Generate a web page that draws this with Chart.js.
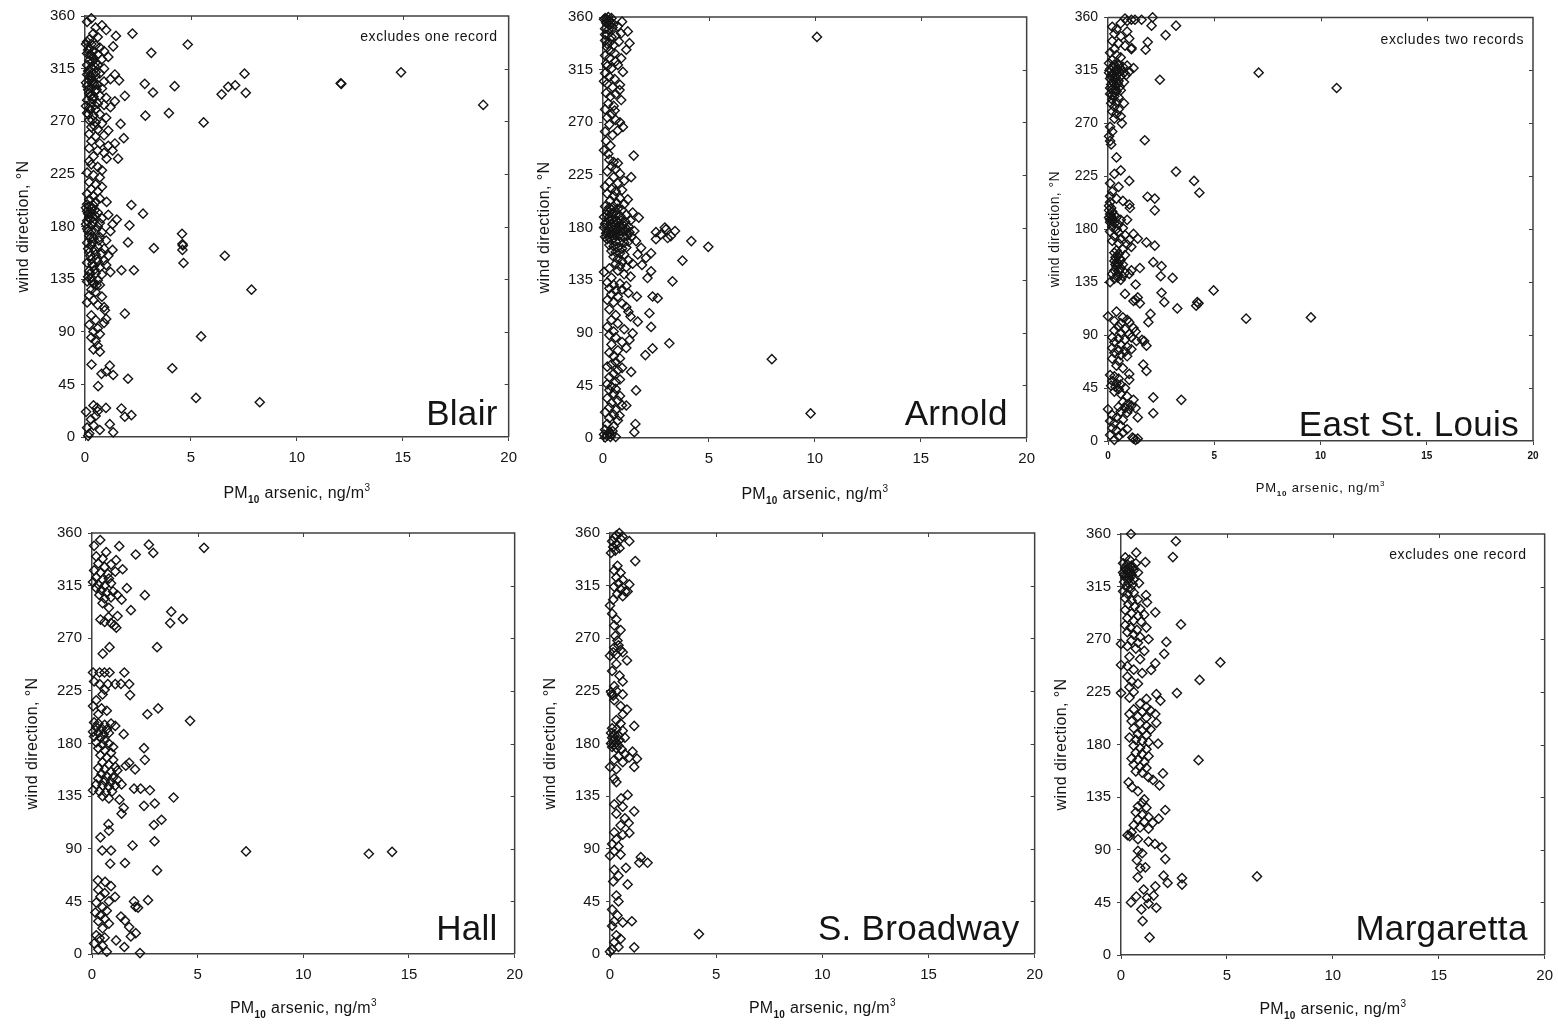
<!DOCTYPE html>
<html><head><meta charset="utf-8">
<script src="https://cdn.jsdelivr.net/npm/chart.js@4.4.1/dist/chart.umd.min.js"></script>
<style>
html,body{margin:0;padding:0;background:#fff;}
body{width:1558px;height:1027px;position:relative;overflow:hidden;}
.panel{position:absolute;}
</style></head><body>
<script>
// ---------- data ----------
const xTickValues = [0, 5, 10, 15, 20];
const yTickValues = [0, 45, 90, 135, 180, 225, 270, 315, 360];
const xAxisTitle = ['PM', '10', ' arsenic, ng/m', '3'];
const yAxisTitle = 'wind direction, °N';
const siteNames = ['Blair', 'Arnold', 'East St. Louis', 'Hall', 'S. Broadway', 'Margaretta'];
const siteNotes = ['excludes one record', '', 'excludes two records', '', '', 'excludes one record'];

// [PM10 arsenic ng/m3, wind direction °N]
const blairData = [
[0.3,358],[0.1,355],[0.5,350],[0.8,352],[0.4,345],[1.0,348],[1.46,343],[2.24,345],[0.2,340],[0.6,342],
[0.1,338],[0.3,336],[0.5,335],[0.2,332],[0.4,330],[0.7,333],[1.33,334],[0.1,328],[0.3,326],[0.6,327],[0.9,330],[0.2,322],[0.5,320],[0.4,324],[0.8,323],[1.1,325],[3.13,328.5],[4.85,335.6],[0.1,318],[0.3,316],[0.6,318],[0.2,314],[0.5,312],[0.9,315],
[0.05,336],[0.15,331],[0.25,327],[0.35,321],[0.45,317],[0.15,313],[0.25,309],[0.35,305],[0.45,301],[0.55,297],[0.05,303],[0.15,297],[0.25,292],[0.35,289],[0.45,284],[0.05,283],[0.15,276],[0.25,280],[0.35,271],[0.45,266],
[0.1,310],[0.3,308],[0.5,309],[0.7,311],[1.41,310],[1.61,305],[0.2,305],[0.4,303],[0.6,301],[0.9,304],[1.2,306],[0.1,300],[0.3,298],[0.5,296],[0.8,298],[2.82,302],[3.21,294.6],[4.23,300],[6.45,293],[6.76,299.4],[7.09,300.8],[7.53,310.7],[7.59,294.3],[12.07,302.5],[12.1,302.0],[14.92,311.8],[18.8,284],[0.2,294],[0.4,291],[0.7,292],[1.0,290],[1.88,291.7],[1.41,287],[0.1,288],[0.3,286],[0.6,285],[0.9,284],[1.2,282],[0.2,281],[0.5,280],
[2.85,274.8],[3.96,277],[5.6,269],[0.1,277],[0.4,275],[0.7,276],[1.0,273],[0.2,271],[0.5,269],[0.8,268],[1.68,267.7],[0.3,265],[0.6,263],[1.1,262],[0.2,259],[0.5,257],[0.9,258],[1.83,255.5],[0.3,253],[0.7,251],[1.41,251],[1.1,249],[0.2,247],[0.6,245],[0.9,243],[1.3,245],[1.56,238],[1.02,238],[0.4,240],[0.2,236],
[0.3,233],[0.6,231],[0.8,228],[0.1,226],[0.4,224],[0.7,222],[0.2,218],[0.5,216],[0.3,212],[0.6,210],[0.8,214],[0.1,208],[0.4,206],[0.2,203],[0.5,201],[1.02,201],[0.7,204],
[0.1,199],[0.2,197],[0.3,195],[0.4,198],[0.1,193],[0.3,191],[0.6,192],[0.2,188],[0.5,189],[0.8,187],[1.1,190],[0.1,185],[0.4,184],[0.7,183],[2.19,198.4],[2.74,191],[2.1,181],[1.5,186],[1.3,182],[0.3,181],[0.6,180],
[0.05,196],[0.15,191],[0.25,186],[0.35,188],[0.45,194],[0.05,182],[0.15,176],[0.25,170],[0.35,167],[0.45,160],[0.15,161],[0.25,155],[0.35,148],[0.45,143],[0.55,152],[0.65,168],[0.25,140],[0.15,137],[0.35,133],[0.55,130],
[0.1,178],[0.3,176],[0.5,177],[0.8,175],[1.2,176],[0.2,172],[0.4,170],[0.7,171],[1.0,168],[2.03,166.4],[4.58,173.8],[4.6,165],[4.62,163.8],[3.25,161.5],[0.1,166],[0.3,164],[0.6,163],[0.9,161],[1.3,160],[0.2,158],[0.5,156],[0.8,157],[1.1,155],[0.3,152],[0.6,150],[0.9,151],[0.1,149],[4.6,160],[4.65,148.8],[6.6,155],[0.4,146],[0.7,145],[1.0,147],[1.72,142.6],[2.31,142.6],[0.2,142],[0.5,140],[0.8,139],[1.2,141],[0.3,136],[0.6,134],[0.1,133],[0.4,131],[0.7,130],[7.86,126],
[0.3,126],[0.5,124],[0.2,121],[0.8,120],[0.4,117],[0.1,115],[0.6,113],[0.9,111],[1.88,105.5],[0.94,108.4],[1.0,101],[0.9,97.6],[0.3,104],[0.5,100],[0.2,96],[0.6,93],[0.4,90],[0.7,88],
[5.48,86],[0.3,85],[0.5,82],[0.6,78],[0.4,75],[0.7,73],[4.12,58.8],[1.17,61],[1.33,53],[0.78,54],[0.62,43.5],[0.31,62],[2.03,49.8],[1.0,56],
[5.24,33.4],[8.25,29.7],[1.72,24.4],[2.19,18.7],[1.88,17.3],[0.99,24.9],[0.57,25],[0.4,27],[0.6,22],[1.17,11],[1.33,4],[0.7,6],[0.05,21.5],[0.1,8],[0.28,15],[0.2,3],[0.4,10],[0.15,1],[0.5,18]
];

const arnoldData = [
[0.1,359],[0.2,358],[0.3,357],[0.4,359],[0.15,355],[0.3,353],[0.5,354],[0.1,350],[0.25,349],[0.45,351],[0.7,352],[0.9,356],[1.17,347.7],[0.2,345],[0.4,343],[0.6,344],[0.85,346],[1.25,337.6],[1.1,332],[0.1,340],[0.3,338],[0.5,336],[0.75,339],[0.2,334],[0.35,331],[0.55,329],[0.1,327],[0.3,325],[0.86,324.7],[0.6,322],[10.1,343],
[0.05,358],[0.25,360],[0.35,355],[0.1,345],[0.2,337],[0.15,320],[0.05,305],
[0.2,318],[0.4,316],[0.7,319],[0.94,313],[0.1,312],[0.3,309],[0.55,307],[0.2,303],[0.45,300],[0.8,302],[0.78,297.5],[0.15,295],[0.35,292],[0.6,294],[0.86,289],[0.25,286],[0.5,284],[0.1,281],[0.55,280],[0.4,277],
[0.2,274],[0.6,272],[0.94,266],[0.7,263],[0.3,268],[0.1,262],[0.45,259],[0.8,270],[0.15,254],[0.35,250],[0.05,246],[1.45,241.5],[0.25,243],
[0.3,238],[0.5,236],[0.7,235],[0.4,232],[0.6,230],[0.2,228],[0.8,226],[1.33,223],[0.5,223],[0.3,219],[0.7,218],[1.0,220],[0.1,215],[0.4,213],[0.6,211],[0.9,212],[1.17,204],[0.2,209],[0.5,207],[0.8,205],[0.35,203],[0.65,201],[1.0,200],
[0.1,198],[0.3,197],[0.5,198],[0.7,196],[0.9,195],[1.4,192.8],[1.69,188.5],[0.2,194],[0.4,192],[0.6,191],[0.8,190],[1.1,191],[0.05,189],[0.25,188],[0.45,187],[0.65,186],[0.85,186],[1.05,185],[1.3,186],[0.15,184],[0.35,183],[0.55,182],[0.75,181],[0.95,182],[1.2,181],[0.05,180],[0.25,179],[0.45,178],[0.65,178],[0.85,177],[1.05,177],[1.25,176],[1.48,177],[0.15,175],[0.35,174],[0.55,174],[0.75,173],[0.95,172],[1.15,173],[1.35,172],[0.2,170],[0.4,169],[0.6,168],[0.8,168],[1.0,167],[1.2,168],[1.56,168.4],[0.3,165],[0.5,164],[0.7,163],[0.9,162],[1.1,163],[1.8,162.6],[0.4,160],[0.6,159],[0.8,158],[1.0,157],[1.64,157],
[0.1,172],[0.3,171],[0.5,171],[0.2,176],[0.4,176],[0.6,176],[0.1,183],[0.3,186],[0.5,185],[0.7,184],[0.9,180],[1.1,179],[0.2,191],[0.4,195],[0.6,194],
[3.4,177],[2.97,178.4],[2.73,174],[2.5,176],[3.2,172.7],[2.92,180],[3.05,171],[2.5,170],[4.17,168.4],[4.97,163.5],[3.75,151.7],[2.27,158],[2.03,154],
[0.5,155],[0.7,153],[0.9,151],[1.2,152],[1.84,148],[0.6,149],[0.8,147],[1.1,146],[1.4,149],[0.3,145],[0.7,143],[2.27,142.6],[0.05,142],[1.0,140],[1.3,138],[2.1,136.8],[3.28,134],[0.4,137],
[0.2,133],[0.5,131],[0.8,132],[1.1,130],[0.3,128],[0.6,126],[0.9,127],[1.2,124],[0.4,123],[0.7,121],[1.6,121],[2.34,121],[2.58,119.6],[0.2,118],[0.5,116],[0.9,115],[1.1,112],[0.3,110],[1.2,108],[2.19,106.7],[0.6,105],[1.3,104],[0.4,101],[1.64,99.5],[0.7,98],[2.27,95],[0.2,95],[1.0,93],[0.5,91],
[1.4,89.5],[0.3,88],[0.6,86],[1.25,83.8],[3.13,81],[0.9,82],[0.4,80],[2.34,76.6],[1.1,77],[0.7,75],[2.0,70.9],[0.3,73],[0.5,70],[7.97,67.4],[0.8,68],[0.6,65],[0.4,63],[0.2,61],[0.9,60],[0.7,58],[1.33,56.5],[0.5,55],[0.3,52],[0.8,50],[0.6,48],[0.2,46],
[0.4,44],[0.6,42],[0.3,41],[1.56,40.7],[0.5,38],[0.8,36],[0.2,34],[0.7,32],[0.4,30],[1.1,27.8],[0.9,28],[0.3,26],[0.6,24],[0.1,22],[0.5,20],[0.78,19.2],[9.8,21],[0.3,17],[0.7,15],[1.53,12],[0.2,12],[0.5,10],[0.1,7],[0.3,5],[1.48,5],[0.4,3],[0.2,2],[0.6,1],[0.1,0.5],
[0.05,3],[0.25,4],[0.35,1],[0.45,6]
];

const eastStLouisData = [
[0.8,359],[0.9,357],[1.1,358],[0.6,355],[0.2,352],[0.4,350],[0.9,348],[0.3,346],[0.6,344],[1.0,342],[0.2,340],[0.5,338],[0.8,336],[1.1,333],[0.3,333],[0.1,330],[0.4,328],[0.6,326],[0.2,324],[0.05,321],[0.3,320],[0.5,319],[0.7,318],[0.9,319],[1.2,317],[0.1,316],[0.35,315],[0.55,314],[0.75,313],[1.0,314],[0.2,312],[0.4,311],[0.6,310],[0.85,311],[0.1,308],[0.3,307],[0.5,306],[0.75,305],[0.15,303],[0.35,302],[0.55,301],[0.2,299],[0.4,297],[0.6,298],[0.1,295],[0.3,293],[0.5,292],[0.2,290],[0.4,288],[0.75,287],[0.3,284],[0.5,282],[0.2,280],[0.4,278],[0.6,276],[0.3,274],[0.65,270],[0.1,267],[0.2,263],[0.05,259],[0.1,255],[0.15,252],
[0.05,313],[0.15,310],[0.25,305],[0.35,309],[0.45,316],[0.65,315],[0.1,300],[0.2,294],[0.3,296],[0.45,304],[0.25,318],[0.5,320],[0.15,287],[0.35,299],
[7.09,313],[10.76,300],[2.44,307],[3.2,353],[2.71,345],[1.87,339],[1.77,332.5],[1.27,358],[1.58,358],[2.1,360],[2.05,353],[1.11,334],
[0.4,241],[0.6,230],[0.3,227],[1.0,221],[0.1,219],[0.5,216],[0.2,212],[0.1,208],[0.4,206],[0.7,204],[1.0,201],[0.1,203],[0.05,200],[0.15,198],[0.05,196],[0.2,195],[0.1,193],[0.3,192],[0.05,190],[0.2,189],[0.4,190],[0.6,188],[0.9,188],[0.1,186],[0.3,185],[0.5,184],[0.2,182],[0.4,180],[0.7,181],
[0.1,188],[0.15,191],[0.25,187],
[3.2,229],[4.05,221],[4.3,211],[1.86,207.6],[2.2,206],[2.2,196],[1.03,198],[1.73,255.6],
[0.1,178],[0.5,177],[0.8,175],[1.2,176],[0.3,174],[0.6,172],[1.0,171],[1.4,172],[0.2,170],[0.5,168],[0.9,167],[1.1,165],[0.7,163],[0.4,162],[0.3,160],[0.5,159],[0.8,158],[0.35,156],[0.55,155],[0.3,153],[0.5,151],[0.7,150],[0.4,148],[0.6,147],[0.3,145],[0.5,144],[0.8,143],[1.1,145],[0.2,142],[0.45,141],[0.7,140],[1.0,142],[0.3,138],[0.6,137],[0.1,135],
[0.4,152],[0.6,154],[0.45,157],[0.35,150],[0.55,146],[0.45,139],
[2.2,166],[1.81,168.8],[2.13,152],[2.52,148.6],[2.48,140],[3.04,138.6],[1.5,147],[1.3,133],
[0.8,125],[1.4,122],[1.2,119],[1.5,117],[1.3,120],[0.4,110],[0.0,106],[0.7,105],[0.9,103],[0.3,102],[0.6,100],[1.0,101],[0.5,97],[0.8,95],[1.2,96],[0.3,94],[0.6,92],[1.0,91],[1.3,93],
[2.52,126],[2.65,118],[3.26,112.7],[4.97,128],[4.26,117],[4.15,115],[4.2,118],[6.5,104],[9.55,105],[1.9,101],[2.0,108],
[0.2,88],[0.5,87],[0.8,86],[1.1,88],[1.6,86],[1.7,85],[0.3,84],[0.6,82],[0.9,80],[0.2,79],[0.5,77],[0.8,76],[1.1,78],[0.3,75],[0.6,73],[0.9,72],[0.2,70],[0.5,68],[1.81,81],[1.34,85],[1.66,65],[1.81,59.5],[0.4,64],[0.7,62],[1.0,57],
[0.1,56],[0.3,55],[0.5,53],[0.2,51],[0.4,49],[0.6,48],[0.15,47],[0.35,46],[0.5,44],[0.8,45],[1.0,52],
[2.13,37],[2.13,23.6],[3.45,35],[0.3,42],[0.6,40],[0.9,38],[1.2,35],[0.7,33],[0.9,31],[1.1,30],[0.8,28],[1.0,27],[1.3,28],[0.5,29],[0.0,27],[0.6,25],[0.9,24],[1.4,20],[0.2,22],[0.4,20],[0.7,18],[0.1,17],[0.3,15],[0.6,13],[0.2,11],[0.4,9],[0.7,7],[0.9,10],[0.1,5],[0.5,4],[1.2,2],[1.3,1],[1.4,2],[1.15,3],[0.3,1]
];

const hallData = [
[0.39,354],[0.1,349],[0.67,343.6],[1.29,348.7],[2.07,341.6],[2.69,350],[2.9,343],[5.3,347.3],[1.14,336.8],[0.9,333],[1.45,329],[0.2,340],[0.5,338],[0.3,334],[0.6,331],[0.1,328],[0.4,326],[0.75,325],[1.1,327],[0.2,322],[0.5,320],[0.8,321],[0.05,318],[0.3,316],[0.6,315],[0.9,317],[0.2,313],[0.45,311],[0.7,309],[1.0,310],[1.2,307],[0.35,307],[0.6,304],[0.9,305],[1.65,312.8],[2.5,306.8],[1.4,303],[1.84,294],[0.5,300],[0.8,296],[3.75,292.7],[3.7,283],[4.3,286.5],[1.21,289],[1.06,281],[0.78,288],[0.4,286],[0.6,284],[0.9,283],[1.15,279],[3.08,262.4],[0.83,262.4],[0.51,256.8],
[0.05,240.7],[0.36,240.7],[0.59,240.7],[0.83,240.7],[1.53,240.7],[0.36,230.8],[0.75,230.8],[1.1,230.8],[1.37,231],[1.76,230.8],[1.8,221.4],[0.1,233],[0.6,226],[0.5,222],[0.2,217],[0.05,212],[0.45,210],[0.7,208],[0.3,205],[2.62,205],[3.13,210],[4.64,199.4],
[0.1,198],[0.3,197],[0.6,196],[0.9,197],[0.2,194],[0.45,193],[0.7,192],[1.1,195],[0.05,190],[0.3,189],[0.55,188],[0.8,189],[1.5,188],[0.1,186],[0.4,185],[0.6,183],[0.2,181],[0.5,179],[0.8,180],[1.0,177],[0.3,176],[0.6,174],[0.9,172],[2.46,176],[2.5,166],[0.4,170],[0.7,168],[1.0,166],[0.5,164],[0.8,162],[1.1,160],[1.76,163.5],[1.6,161],[2.04,157.8],[0.3,159],[0.6,158],[0.9,156],[1.2,157],[0.45,154],[0.7,152],[1.0,151],[0.3,150],[0.6,148],[0.9,147],[1.2,149],[0.2,145],[0.5,144],[0.8,143],[1.1,144],[1.4,145],[1.99,141.4],[2.3,141.4],[2.74,140],[0.05,140],[0.35,139],[0.65,138],[0.95,139],[3.86,133.8],[0.5,135],[0.8,133],[1.3,132],[1.5,125],[1.4,120],[2.46,126.7],[2.97,128.7],[3.29,114.8],[2.93,110.3],
[0.78,111],[0.8,105.5],[0.4,99.8],[2.96,96.4],[1.92,92.8],[0.48,88.5],[0.9,88.5],[1.56,77.8],[0.86,77.2],[7.29,87.7],[13.1,85.7],[14.2,87.4],[3.08,71.5],[0.28,63],[0.62,61.7],[0.9,58],[0.3,55],[0.6,52],[1.09,48.9],[0.4,49],[0.8,45],[0.2,44],[1.99,45],[2.65,46],[2.06,40.4],[2.18,39.6],[0.5,40],[0.7,37],[0.16,35.4],[0.4,33],[1.37,32],[0.6,30],[1.56,28.6],[0.3,28],[0.8,26],[1.76,23],[0.5,22],[2.07,17.8],[1.84,15],[0.2,16],[0.6,14],[0.36,13.6],[1.14,11.6],[0.1,9],[0.5,7],[1.53,6],[0.3,4],[0.7,2],[2.27,0.8]
];

const southBroadwayData = [
[0.44,360],[0.3,358],[0.2,356],[0.5,355],[0.1,353],[0.91,353],[0.59,357],[0.3,350],[0.15,348],[0.45,347],[0.25,345],[0.05,343],[1.19,336],[0.35,332],[0.2,328],[0.5,326],[0.3,322],[0.6,320],[0.4,317],[0.91,316],[0.2,314],[0.5,312],[0.83,310],[0.72,310],[0.35,308],[0.6,306],[0.15,303],[0.0,298],[0.1,291],[0.3,286],[0.2,281],[0.5,277],[0.25,272],[0.35,268],[0.4,264],[0.2,262],[0.5,260],[0.15,258],[0.3,256],[0.6,258],[0.0,255],[0.8,251],[0.3,248],[0.1,242],[0.45,238],[0.6,233],[0.2,229],[0.05,224],[0.1,222],[0.15,221],[0.3,225],[0.6,222],[0.2,217],[0.5,212],[0.8,209],[0.6,205],[0.3,200],[0.5,197],[1.14,195],
[0.1,193],[0.3,192],[0.6,191],[0.05,189],[0.2,188],[0.4,187],[0.1,185],[0.25,184],[0.45,183],[0.7,185],[0.15,182],[0.3,181],[0.05,180],[0.2,179],[0.4,178],[0.1,177],[0.3,176],[0.55,175],[1.06,173],[0.7,171],[0.4,169],[1.27,167],[0.9,168],[0.2,166],[0.6,164],[1.14,160],[0.0,160],[0.3,158],[0.2,150],[0.3,147],[0.83,136],[0.52,133],[0.2,128],[0.6,126],[1.14,122],[0.3,120],[0.7,116],[0.88,112],[0.5,110],[0.91,103.5],[0.2,104],[0.6,102],[0.3,98],[0.1,94],[0.4,92],[0.2,88],[0.0,84],[0.5,85],[1.45,82.8],[1.38,78],[1.77,78],[0.75,73.7],[0.2,72],[0.4,67],[0.83,59.5],[0.15,62],[0.3,50],[0.4,45],[0.1,38],[0.35,33],[0.2,28],[0.6,27],[1.03,28],[0.1,24],[0.3,16],[0.5,13],[4.19,17],[0.2,10],[1.14,5.7],[0.1,4],[0.4,6],[0.0,2]
];

const margarettaData = [
[0.47,360],[2.59,353.8],[2.45,340.3],[0.72,344],[1.15,336],[0.2,340],[0.4,338],[0.1,335],[0.3,334],[0.5,333],[0.7,335],[0.2,331],[0.4,330],[0.6,329],[0.1,327],[0.3,326],[0.5,325],[0.8,327],[0.2,323],[0.4,322],[0.6,321],[0.15,319],[0.35,318],[0.55,317],[0.85,318],[0.25,315],[0.45,313],[0.1,311],[0.3,309],[0.6,310],
[0.25,329],[0.45,327],[0.35,323],[0.15,325],[0.55,331],
[1.18,307.8],[0.2,305],[0.5,303],[0.8,304],[1.23,301.6],[0.35,300],[0.65,298],[0.91,296],[1.62,293],[0.2,295],[0.5,292],[0.8,290],[1.1,291],[0.3,288],[0.6,286],[0.95,285],[2.83,282.7],[0.2,282],[0.45,280],[0.75,278],[1.2,280],[0.3,276],[0.6,274],[0.9,272],[1.3,270],[0.5,269],[0.8,267],[2.14,267.7],[0.0,266],[0.3,264],[0.7,262],[1.1,260],[2.04,257.5],[0.4,255],[0.9,253],[1.62,249.4],[4.69,250.2],[0.0,248],[0.3,247],[0.6,244],[1.42,243.7],[1.0,241],[0.3,238],[3.71,235.2],[0.5,234],[0.8,232],[0.4,229],[0.0,224],[0.6,225],[1.67,223],[2.64,224],[1.86,217.5],[1.2,219],[0.4,220],
[0.9,215],[1.2,212],[0.6,210],[1.0,208],[1.4,209],[1.62,206],[0.4,206],[0.8,204],[1.2,203],[0.5,200],[0.9,198],[1.67,198.5],[1.2,196],[0.6,194],[1.0,192],[1.4,193],[0.8,189],[1.2,188],[0.4,186],[0.7,184],[1.0,183],[1.3,182],[1.75,180.7],[0.6,179],[0.9,177],[1.2,176],[0.7,173],[1.0,172],[1.3,170],[0.5,168],[0.8,167],[1.1,165],[3.66,166.6],[0.6,163],[0.9,161],[1.2,160],[0.7,157],[1.0,156],[1.98,155.3],[1.3,152],[1.51,149.7],[1.82,145],[0.36,147.7],[0.52,143.5],[0.8,140],[1.1,133],[1.0,130],[0.8,127],[1.2,126],[2.09,124],[0.7,122],[1.0,120],[1.3,118],[1.78,116.6],[0.8,116],[1.1,114],[1.5,113],[0.6,111],[0.9,109],[1.3,108],[0.5,105],[0.31,102.5],[0.41,101.7],[0.8,99],[1.3,97],[1.6,95],[1.93,92],[0.8,89],[1.0,87],[2.09,82],[0.75,81],[0.91,74.3],[1.15,75],[0.79,66.4],[2.01,67.8],[2.2,61.6],[2.88,65.8],[2.88,60.2],[6.42,67.2],[1.62,58.7],[1.07,56],[1.54,50.8],[1.23,48.9],[0.72,50],[0.47,45],[1.3,44],[1.67,40.4],[0.96,39],[1.02,29],[1.35,15]
];

const siteData = [blairData, arnoldData, eastStLouisData, hallData, southBroadwayData, margarettaData];

// ---------- layout (pixel frames of each plot area) ----------
const frames = [
  {L:85,  R:511,  T:13,  B:437, yTitleDx:61, xTitleDy:61, nameDx:11, nameDy:12, noteDx:11, noteDy:21, small:false},
  {L:603, R:1029, T:14,  B:438, yTitleDx:58, xTitleDy:61, nameDx:19, nameDy:13, noteDx:11, noteDy:21, small:false},
  {L:1108,R:1533, T:15,  B:441, yTitleDx:53, xTitleDy:51, nameDx:14, nameDy:5,  noteDx:9,  noteDy:23, small:true},
  {L:92,  R:517,  T:530, B:954, yTitleDx:59, xTitleDy:59, nameDx:17, nameDy:14, noteDx:11, noteDy:21, small:false},
  {L:610, R:1037, T:530, B:954, yTitleDx:59, xTitleDy:59, nameDx:15, nameDy:14, noteDx:11, noteDy:21, small:false},
  {L:1121,R:1547, T:531, B:955, yTitleDx:59, xTitleDy:59, nameDx:17, nameDy:15, noteDx:18, noteDy:21, small:false}
];

const FONT = '"Liberation Sans", Arial, Helvetica, sans-serif';
const AXIS = '#404040';
const INK = '#141414';
Chart.defaults.font.family = FONT;
Chart.defaults.color = INK;

const framePlugin = {
  id: 'frameBox',
  beforeDatasetsDraw(chart) {
    const {ctx, chartArea: a, scales: {x, y}} = chart;
    ctx.save();
    ctx.strokeStyle = AXIS;
    ctx.lineWidth = 1.5;
    ctx.beginPath();
    ctx.moveTo(a.left, a.top); ctx.lineTo(a.right, a.top); ctx.lineTo(a.right, a.bottom);
    ctx.stroke();
    ctx.lineWidth = 1;
    ctx.beginPath();
    xTickValues.slice(1, -1).forEach(v => {
      const px = Math.round(x.getPixelForValue(v)) + 0.5;
      ctx.moveTo(px, a.top); ctx.lineTo(px, a.top + 4);
    });
    yTickValues.slice(1, -1).forEach(v => {
      const py = Math.round(y.getPixelForValue(v)) + 0.5;
      ctx.moveTo(a.right, py); ctx.lineTo(a.right - 4, py);
    });
    ctx.stroke();
    ctx.restore();
  }
};

function makeTextPlugin(i) {
  const f = frames[i];
  return {
    id: 'panelText' + i,
    afterDraw(chart) {
      const {ctx, chartArea: a} = chart;
      ctx.save();
      ctx.fillStyle = INK;
      // site name
      ctx.font = '35px ' + FONT;
      ctx.textAlign = 'right'; ctx.textBaseline = 'alphabetic';
      try { ctx.letterSpacing = '0.3px'; } catch (e) {}
      ctx.fillText(siteNames[i], a.right - f.nameDx, a.bottom - f.nameDy);
      // note
      if (siteNotes[i]) {
        ctx.font = '14px ' + FONT;
        ctx.textBaseline = 'middle';
        try { ctx.letterSpacing = '0.6px'; } catch (e) {}
        ctx.fillText(siteNotes[i], a.right - f.noteDx, a.top + f.noteDy);
      }
      try { ctx.letterSpacing = '0px'; } catch (e) {}
      // y title
      ctx.save();
      ctx.translate(a.left - f.yTitleDx, (a.top + a.bottom) / 2);
      ctx.rotate(-Math.PI / 2);
      ctx.textAlign = 'center'; ctx.textBaseline = 'middle';
      ctx.font = (f.small ? '14px ' : '16px ') + FONT;
      try { ctx.letterSpacing = '0.4px'; } catch (e) {}
      ctx.fillText(yAxisTitle, 0, 0);
      ctx.restore();
      // x title with subscript / superscript
      const big = f.small ? 13 : 16;
      const sm = f.small ? 8 : 10;
      try { ctx.letterSpacing = f.small ? '0.8px' : '0.3px'; } catch (e) {}
      const parts = [
        {t: xAxisTitle[0], font: big + 'px ' + FONT, dy: 0},
        {t: xAxisTitle[1], font: 'bold ' + sm + 'px ' + FONT, dy: Math.round(big * 0.3)},
        {t: xAxisTitle[2], font: big + 'px ' + FONT, dy: 0},
        {t: xAxisTitle[3], font: sm + 'px ' + FONT, dy: -Math.round(big * 0.45)}
      ];
      let total = 0;
      parts.forEach(p => { ctx.font = p.font; p.w = ctx.measureText(p.t).width; total += p.w; });
      let cx = (a.left + a.right) / 2 - total / 2;
      const base = a.bottom + f.xTitleDy;
      ctx.textAlign = 'left'; ctx.textBaseline = 'alphabetic';
      parts.forEach(p => { ctx.font = p.font; ctx.fillText(p.t, cx, base + p.dy); cx += p.w; });
      ctx.restore();
    }
  };
}

frames.forEach((f, i) => {
  const cl = f.L - 80, ct = f.T - 12;
  const cw = f.R + 14 - cl, ch = f.B + 68 - ct;
  const div = document.createElement('div');
  div.className = 'panel';
  div.style.left = cl + 'px'; div.style.top = ct + 'px';
  div.style.width = cw + 'px'; div.style.height = ch + 'px';
  const cv = document.createElement('canvas');
  div.appendChild(cv);
  document.body.appendChild(div);

  new Chart(cv, {
    type: 'scatter',
    data: {
      datasets: [{
        data: siteData[i].map(p => ({x: p[0], y: p[1]})),
        pointStyle: 'rectRot',
        pointRadius: 4.6,
        pointHoverRadius: 4.6,
        borderWidth: 1.4,
        borderColor: INK,
        backgroundColor: 'rgba(255,255,255,0)',
        clip: false
      }]
    },
    options: {
      responsive: true,
      maintainAspectRatio: false,
      animation: false,
      devicePixelRatio: 1,
      events: [],
      layout: {padding: {top: f.T - ct, right: cl + cw - f.R, left: 0, bottom: 0}},
      plugins: {legend: {display: false}, tooltip: {enabled: false}},
      scales: {
        x: {
          type: 'linear', position: 'bottom', min: 0, max: 20,
          afterBuildTicks: s => { s.ticks = xTickValues.map(v => ({value: v})); },
          afterFit: s => { s.height = ch - (f.B - ct); },
          ticks: {color: INK, font: {size: f.small ? 10 : 15, weight: f.small ? 'bold' : 'normal'}, padding: f.small ? 5 : 8, maxRotation: 0, autoSkip: false},
          grid: {display: true, drawOnChartArea: false, drawTicks: true, tickLength: 4, color: AXIS, lineWidth: 1},
          border: {display: true, color: AXIS, width: 1.5}
        },
        y: {
          type: 'linear', position: 'left', min: 0, max: 360,
          afterBuildTicks: s => { s.ticks = yTickValues.map(v => ({value: v})); },
          afterFit: s => { s.width = f.L - cl; },
          ticks: {color: INK, font: {size: f.small ? 14 : 15}, padding: 6, autoSkip: false},
          grid: {display: true, drawOnChartArea: false, drawTicks: true, tickLength: 4, color: AXIS, lineWidth: 1},
          border: {display: true, color: AXIS, width: 1.5}
        }
      }
    },
    plugins: [framePlugin, makeTextPlugin(i)]
  });
});
</script>
</body></html>
